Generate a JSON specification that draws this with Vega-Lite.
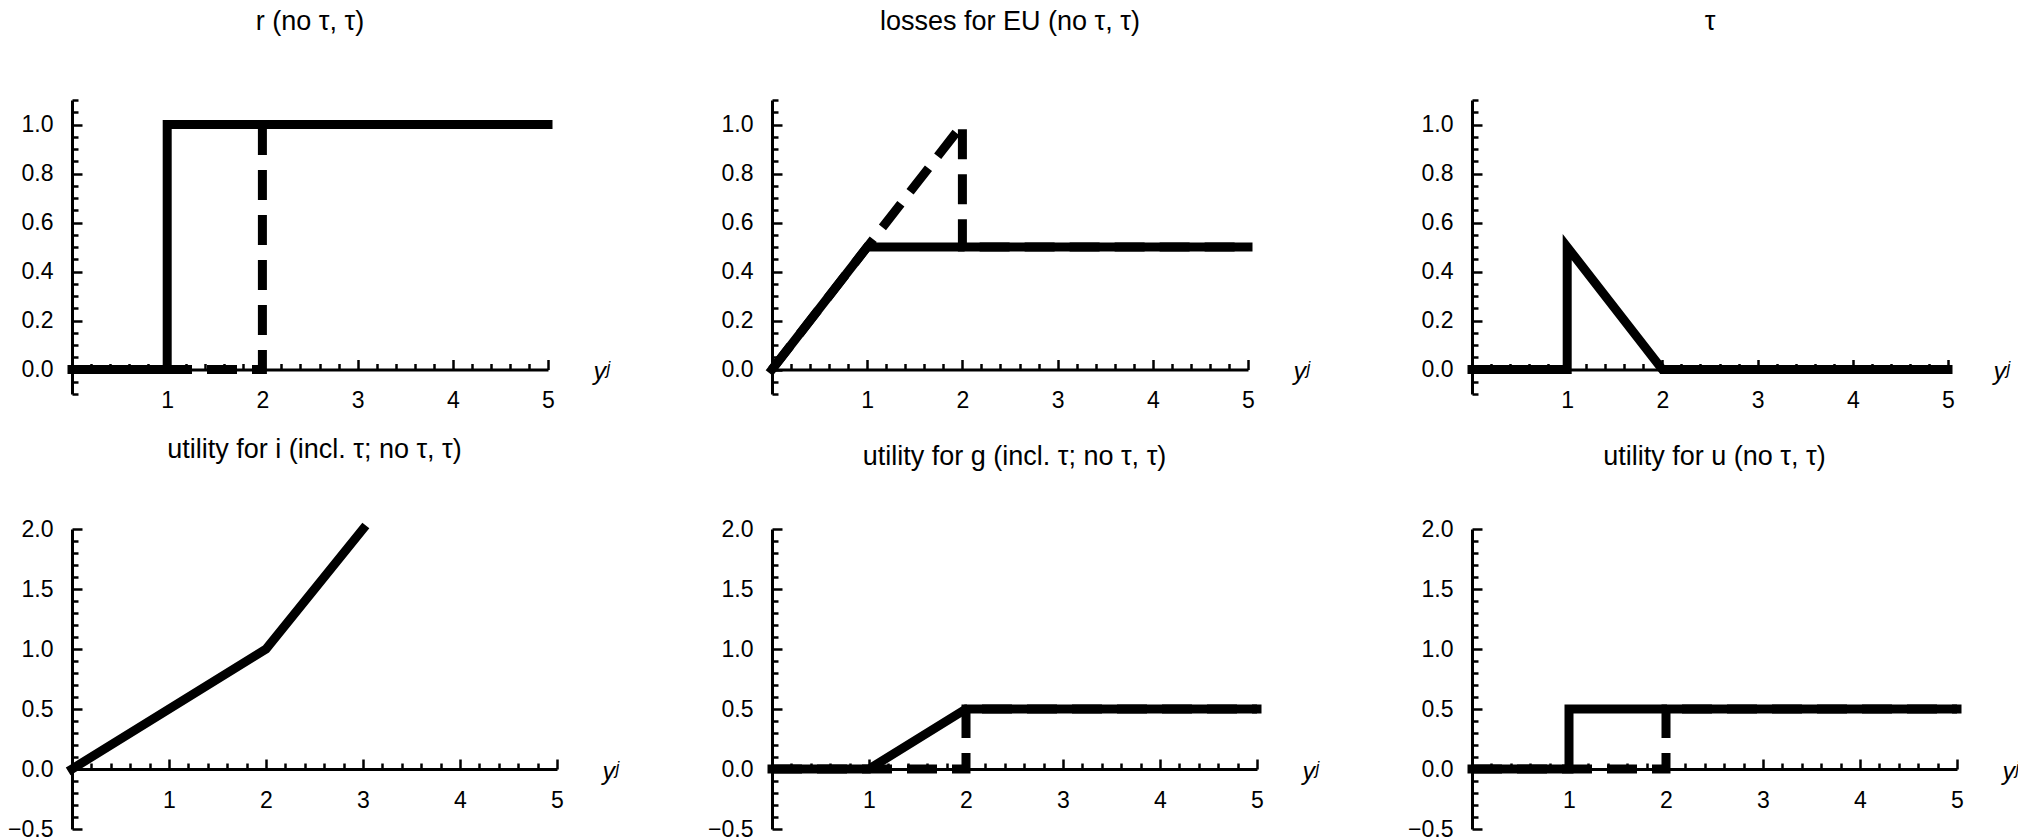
{
  "$schema": "https://vega.github.io/schema/vega-lite/v6.json",
  "padding": {"left": 7, "top": 8, "right": 0, "bottom": 0},
  "background": "white",
  "data": {"values": [
    {"p": 1, "c": "tau", "i": 1, "x": 0, "y": 0},
    {"p": 1, "c": "tau", "i": 2, "x": 1, "y": 0},
    {"p": 1, "c": "tau", "i": 3, "x": 1, "y": 1},
    {"p": 1, "c": "tau", "i": 4, "x": 5, "y": 1},
    {"p": 1, "c": "no", "i": 1, "x": 0, "y": 0},
    {"p": 1, "c": "no", "i": 2, "x": 2, "y": 0},
    {"p": 1, "c": "no", "i": 3, "x": 2, "y": 1},
    {"p": 1, "c": "no", "i": 4, "x": 5, "y": 1},
    {"p": 2, "c": "tau", "i": 1, "x": 0, "y": 0},
    {"p": 2, "c": "tau", "i": 2, "x": 1, "y": 0.5},
    {"p": 2, "c": "tau", "i": 3, "x": 5, "y": 0.5},
    {"p": 2, "c": "no", "i": 1, "x": 0, "y": 0},
    {"p": 2, "c": "no", "i": 2, "x": 2, "y": 1},
    {"p": 2, "c": "no", "i": 3, "x": 2, "y": 0.5},
    {"p": 2, "c": "no", "i": 4, "x": 5, "y": 0.5},
    {"p": 3, "c": "tau", "i": 1, "x": 0, "y": 0},
    {"p": 3, "c": "tau", "i": 2, "x": 1, "y": 0},
    {"p": 3, "c": "tau", "i": 3, "x": 1, "y": 0.5},
    {"p": 3, "c": "tau", "i": 4, "x": 2, "y": 0},
    {"p": 3, "c": "tau", "i": 5, "x": 5, "y": 0},
    {"p": 4, "c": "tau", "i": 1, "x": 0, "y": 0},
    {"p": 4, "c": "tau", "i": 2, "x": 2, "y": 1},
    {"p": 4, "c": "tau", "i": 3, "x": 3, "y": 2},
    {"p": 5, "c": "tau", "i": 1, "x": 0, "y": 0},
    {"p": 5, "c": "tau", "i": 2, "x": 1, "y": 0},
    {"p": 5, "c": "tau", "i": 3, "x": 2, "y": 0.5},
    {"p": 5, "c": "tau", "i": 4, "x": 5, "y": 0.5},
    {"p": 5, "c": "no", "i": 1, "x": 0, "y": 0},
    {"p": 5, "c": "no", "i": 2, "x": 2, "y": 0},
    {"p": 5, "c": "no", "i": 3, "x": 2, "y": 0.5},
    {"p": 5, "c": "no", "i": 4, "x": 5, "y": 0.5},
    {"p": 6, "c": "tau", "i": 1, "x": 0, "y": 0},
    {"p": 6, "c": "tau", "i": 2, "x": 1, "y": 0},
    {"p": 6, "c": "tau", "i": 3, "x": 1, "y": 0.5},
    {"p": 6, "c": "tau", "i": 4, "x": 5, "y": 0.5},
    {"p": 6, "c": "no", "i": 1, "x": 0, "y": 0},
    {"p": 6, "c": "no", "i": 2, "x": 2, "y": 0},
    {"p": 6, "c": "no", "i": 3, "x": 2, "y": 0.5},
    {"p": 6, "c": "no", "i": 4, "x": 5, "y": 0.5}
  ]},
  "columns": 3,
  "spacing": {"row": 135, "column": 215},
  "bounds": "flush",
  "concat": [
    {
      "width": 476, "height": 294,
      "title": {"text": "r (no τ, τ)", "offset": 53},
      "transform": [{"filter": "datum.p == 1"}],
      "encoding": {
        "x": {"field": "x", "type": "quantitative", "scale": {"domain": [0, 5], "nice": false, "zero": false},
          "axis": {"values": [0,0.2,0.4,0.6,0.8,1,1.2,1.4,1.6,1.8,2,2.2,2.4,2.6,2.8,3,3.2,3.4,3.6,3.8,4,4.2,4.4,4.6,4.8,5],
            "tickSize": {"condition": {"test": "datum.value % 1 === 0", "value": -10}, "value": -6},
            "labelExpr": "datum.value % 1 === 0 && datum.value > 0 ? format(datum.value, 'd') : ''",
            "labelPadding": 30, "offset": -24.5,
            "title": "yʲ", "titleX": 521, "titleY": 10, "titleAlign": "left", "titleBaseline": "alphabetic", "titleAngle": 0}},
        "y": {"field": "y", "type": "quantitative", "scale": {"domain": [-0.1, 1.1], "nice": false, "zero": false},
          "axis": {"values": [-0.1,-0.05,0,0.05,0.1,0.15,0.2,0.25,0.3,0.35,0.4,0.45,0.5,0.55,0.6,0.65,0.7,0.75,0.8,0.85,0.9,0.95,1,1.05,1.1],
            "tickSize": {"condition": {"test": "abs(datum.value * 5 - round(datum.value * 5)) < 0.001", "value": -10}, "value": -6},
            "labelExpr": "abs(datum.value * 5 - round(datum.value * 5)) < 0.001 ? format(datum.value, '.1f') : ''",
            "labelPadding": 29, "title": null}},
        "order": {"field": "i", "type": "quantitative"}
      },
      "layer": [
        {"transform": [{"filter": "datum.c == 'no'"}], "mark": {"type": "line", "color": "black", "strokeWidth": 9, "strokeDash": [30, 15], "strokeCap": "butt", "strokeJoin": "miter"}, "encoding": {}},
        {"transform": [{"filter": "datum.c == 'tau'"}], "mark": {"type": "line", "color": "black", "strokeWidth": 9, "strokeCap": "square", "strokeJoin": "miter"}, "encoding": {}}
      ]
    },
    {
      "width": 476, "height": 294,
      "title": {"text": "losses for EU (no τ, τ)", "offset": 53},
      "transform": [{"filter": "datum.p == 2"}],
      "encoding": {
        "x": {"field": "x", "type": "quantitative", "scale": {"domain": [0, 5], "nice": false, "zero": false},
          "axis": {"values": [0,0.2,0.4,0.6,0.8,1,1.2,1.4,1.6,1.8,2,2.2,2.4,2.6,2.8,3,3.2,3.4,3.6,3.8,4,4.2,4.4,4.6,4.8,5],
            "tickSize": {"condition": {"test": "datum.value % 1 === 0", "value": -10}, "value": -6},
            "labelExpr": "datum.value % 1 === 0 && datum.value > 0 ? format(datum.value, 'd') : ''",
            "labelPadding": 30, "offset": -24.5,
            "title": "yʲ", "titleX": 521, "titleY": 10, "titleAlign": "left", "titleBaseline": "alphabetic", "titleAngle": 0}},
        "y": {"field": "y", "type": "quantitative", "scale": {"domain": [-0.1, 1.1], "nice": false, "zero": false},
          "axis": {"values": [-0.1,-0.05,0,0.05,0.1,0.15,0.2,0.25,0.3,0.35,0.4,0.45,0.5,0.55,0.6,0.65,0.7,0.75,0.8,0.85,0.9,0.95,1,1.05,1.1],
            "tickSize": {"condition": {"test": "abs(datum.value * 5 - round(datum.value * 5)) < 0.001", "value": -10}, "value": -6},
            "labelExpr": "abs(datum.value * 5 - round(datum.value * 5)) < 0.001 ? format(datum.value, '.1f') : ''",
            "labelPadding": 29, "title": null}},
        "order": {"field": "i", "type": "quantitative"}
      },
      "layer": [
        {"transform": [{"filter": "datum.c == 'no'"}], "mark": {"type": "line", "color": "black", "strokeWidth": 9, "strokeDash": [30, 15], "strokeCap": "butt", "strokeJoin": "miter"}, "encoding": {}},
        {"transform": [{"filter": "datum.c == 'tau'"}], "mark": {"type": "line", "color": "black", "strokeWidth": 9, "strokeCap": "square", "strokeJoin": "miter"}, "encoding": {}}
      ]
    },
    {
      "width": 476, "height": 294,
      "title": {"text": "τ", "offset": 53},
      "transform": [{"filter": "datum.p == 3"}],
      "encoding": {
        "x": {"field": "x", "type": "quantitative", "scale": {"domain": [0, 5], "nice": false, "zero": false},
          "axis": {"values": [0,0.2,0.4,0.6,0.8,1,1.2,1.4,1.6,1.8,2,2.2,2.4,2.6,2.8,3,3.2,3.4,3.6,3.8,4,4.2,4.4,4.6,4.8,5],
            "tickSize": {"condition": {"test": "datum.value % 1 === 0", "value": -10}, "value": -6},
            "labelExpr": "datum.value % 1 === 0 && datum.value > 0 ? format(datum.value, 'd') : ''",
            "labelPadding": 30, "offset": -24.5,
            "title": "yʲ", "titleX": 521, "titleY": 10, "titleAlign": "left", "titleBaseline": "alphabetic", "titleAngle": 0}},
        "y": {"field": "y", "type": "quantitative", "scale": {"domain": [-0.1, 1.1], "nice": false, "zero": false},
          "axis": {"values": [-0.1,-0.05,0,0.05,0.1,0.15,0.2,0.25,0.3,0.35,0.4,0.45,0.5,0.55,0.6,0.65,0.7,0.75,0.8,0.85,0.9,0.95,1,1.05,1.1],
            "tickSize": {"condition": {"test": "abs(datum.value * 5 - round(datum.value * 5)) < 0.001", "value": -10}, "value": -6},
            "labelExpr": "abs(datum.value * 5 - round(datum.value * 5)) < 0.001 ? format(datum.value, '.1f') : ''",
            "labelPadding": 29, "title": null}},
        "order": {"field": "i", "type": "quantitative"}
      },
      "layer": [
        {"mark": {"type": "line", "color": "black", "strokeWidth": 9, "strokeCap": "square", "strokeJoin": "miter"}, "encoding": {}}
      ]
    },
    {
      "width": 485, "height": 300,
      "title": {"text": "utility for i (incl. τ; no τ, τ)", "offset": 47},
      "transform": [{"filter": "datum.p == 4"}],
      "encoding": {
        "x": {"field": "x", "type": "quantitative", "scale": {"domain": [0, 5], "nice": false, "zero": false},
          "axis": {"values": [0,0.2,0.4,0.6,0.8,1,1.2,1.4,1.6,1.8,2,2.2,2.4,2.6,2.8,3,3.2,3.4,3.6,3.8,4,4.2,4.4,4.6,4.8,5],
            "tickSize": {"condition": {"test": "datum.value % 1 === 0", "value": -10}, "value": -6},
            "labelExpr": "datum.value % 1 === 0 && datum.value > 0 ? format(datum.value, 'd') : ''",
            "labelPadding": 30, "offset": -60,
            "title": "yʲ", "titleX": 530, "titleY": 10, "titleAlign": "left", "titleBaseline": "alphabetic", "titleAngle": 0}},
        "y": {"field": "y", "type": "quantitative", "scale": {"domain": [-0.5, 2], "nice": false, "zero": false},
          "axis": {"values": [-0.5,-0.4,-0.3,-0.2,-0.1,0,0.1,0.2,0.3,0.4,0.5,0.6,0.7,0.8,0.9,1,1.1,1.2,1.3,1.4,1.5,1.6,1.7,1.8,1.9,2],
            "tickSize": {"condition": {"test": "abs(datum.value * 2 - round(datum.value * 2)) < 0.001", "value": -10}, "value": -6},
            "labelExpr": "abs(datum.value * 2 - round(datum.value * 2)) < 0.001 ? format(datum.value, '.1f') : ''",
            "labelPadding": 29, "title": null}},
        "order": {"field": "i", "type": "quantitative"}
      },
      "layer": [
        {"mark": {"type": "line", "color": "black", "strokeWidth": 9, "strokeCap": "square", "strokeJoin": "miter"}, "encoding": {}}
      ]
    },
    {
      "width": 485, "height": 300,
      "title": {"text": "utility for g (incl. τ; no τ, τ)", "offset": 47},
      "transform": [{"filter": "datum.p == 5"}],
      "encoding": {
        "x": {"field": "x", "type": "quantitative", "scale": {"domain": [0, 5], "nice": false, "zero": false},
          "axis": {"values": [0,0.2,0.4,0.6,0.8,1,1.2,1.4,1.6,1.8,2,2.2,2.4,2.6,2.8,3,3.2,3.4,3.6,3.8,4,4.2,4.4,4.6,4.8,5],
            "tickSize": {"condition": {"test": "datum.value % 1 === 0", "value": -10}, "value": -6},
            "labelExpr": "datum.value % 1 === 0 && datum.value > 0 ? format(datum.value, 'd') : ''",
            "labelPadding": 30, "offset": -60,
            "title": "yʲ", "titleX": 530, "titleY": 10, "titleAlign": "left", "titleBaseline": "alphabetic", "titleAngle": 0}},
        "y": {"field": "y", "type": "quantitative", "scale": {"domain": [-0.5, 2], "nice": false, "zero": false},
          "axis": {"values": [-0.5,-0.4,-0.3,-0.2,-0.1,0,0.1,0.2,0.3,0.4,0.5,0.6,0.7,0.8,0.9,1,1.1,1.2,1.3,1.4,1.5,1.6,1.7,1.8,1.9,2],
            "tickSize": {"condition": {"test": "abs(datum.value * 2 - round(datum.value * 2)) < 0.001", "value": -10}, "value": -6},
            "labelExpr": "abs(datum.value * 2 - round(datum.value * 2)) < 0.001 ? format(datum.value, '.1f') : ''",
            "labelPadding": 29, "title": null}},
        "order": {"field": "i", "type": "quantitative"}
      },
      "layer": [
        {"transform": [{"filter": "datum.c == 'no'"}], "mark": {"type": "line", "color": "black", "strokeWidth": 9, "strokeDash": [30, 15], "strokeCap": "butt", "strokeJoin": "miter"}, "encoding": {}},
        {"transform": [{"filter": "datum.c == 'tau'"}], "mark": {"type": "line", "color": "black", "strokeWidth": 9, "strokeCap": "square", "strokeJoin": "miter"}, "encoding": {}}
      ]
    },
    {
      "width": 485, "height": 300,
      "title": {"text": "utility for u (no τ, τ)", "offset": 47},
      "transform": [{"filter": "datum.p == 6"}],
      "encoding": {
        "x": {"field": "x", "type": "quantitative", "scale": {"domain": [0, 5], "nice": false, "zero": false},
          "axis": {"values": [0,0.2,0.4,0.6,0.8,1,1.2,1.4,1.6,1.8,2,2.2,2.4,2.6,2.8,3,3.2,3.4,3.6,3.8,4,4.2,4.4,4.6,4.8,5],
            "tickSize": {"condition": {"test": "datum.value % 1 === 0", "value": -10}, "value": -6},
            "labelExpr": "datum.value % 1 === 0 && datum.value > 0 ? format(datum.value, 'd') : ''",
            "labelPadding": 30, "offset": -60,
            "title": "yʲ", "titleX": 530, "titleY": 10, "titleAlign": "left", "titleBaseline": "alphabetic", "titleAngle": 0}},
        "y": {"field": "y", "type": "quantitative", "scale": {"domain": [-0.5, 2], "nice": false, "zero": false},
          "axis": {"values": [-0.5,-0.4,-0.3,-0.2,-0.1,0,0.1,0.2,0.3,0.4,0.5,0.6,0.7,0.8,0.9,1,1.1,1.2,1.3,1.4,1.5,1.6,1.7,1.8,1.9,2],
            "tickSize": {"condition": {"test": "abs(datum.value * 2 - round(datum.value * 2)) < 0.001", "value": -10}, "value": -6},
            "labelExpr": "abs(datum.value * 2 - round(datum.value * 2)) < 0.001 ? format(datum.value, '.1f') : ''",
            "labelPadding": 29, "title": null}},
        "order": {"field": "i", "type": "quantitative"}
      },
      "layer": [
        {"transform": [{"filter": "datum.c == 'no'"}], "mark": {"type": "line", "color": "black", "strokeWidth": 9, "strokeDash": [30, 15], "strokeCap": "butt", "strokeJoin": "miter"}, "encoding": {}},
        {"transform": [{"filter": "datum.c == 'tau'"}], "mark": {"type": "line", "color": "black", "strokeWidth": 9, "strokeCap": "square", "strokeJoin": "miter"}, "encoding": {}}
      ]
    }
  ],
  "config": {
    "view": {"stroke": null},
    "axis": {
      "domainColor": "black", "domainWidth": 3, "tickColor": "black", "tickWidth": 2.5,
      "labelFont": "Liberation Sans", "labelFontSize": 23, "labelColor": "black",
      "labelFlush": false, "labelOverlap": false, "labelBound": false, "grid": false,
      "titleFont": "Liberation Sans", "titleFontSize": 25, "titleFontStyle": "italic", "titleFontWeight": "normal", "titleColor": "black"
    },
    "title": {"font": "Liberation Sans", "fontSize": 27, "fontWeight": "normal", "color": "black", "frame": "group", "anchor": "middle", "baseline": "middle"}
  }
}
